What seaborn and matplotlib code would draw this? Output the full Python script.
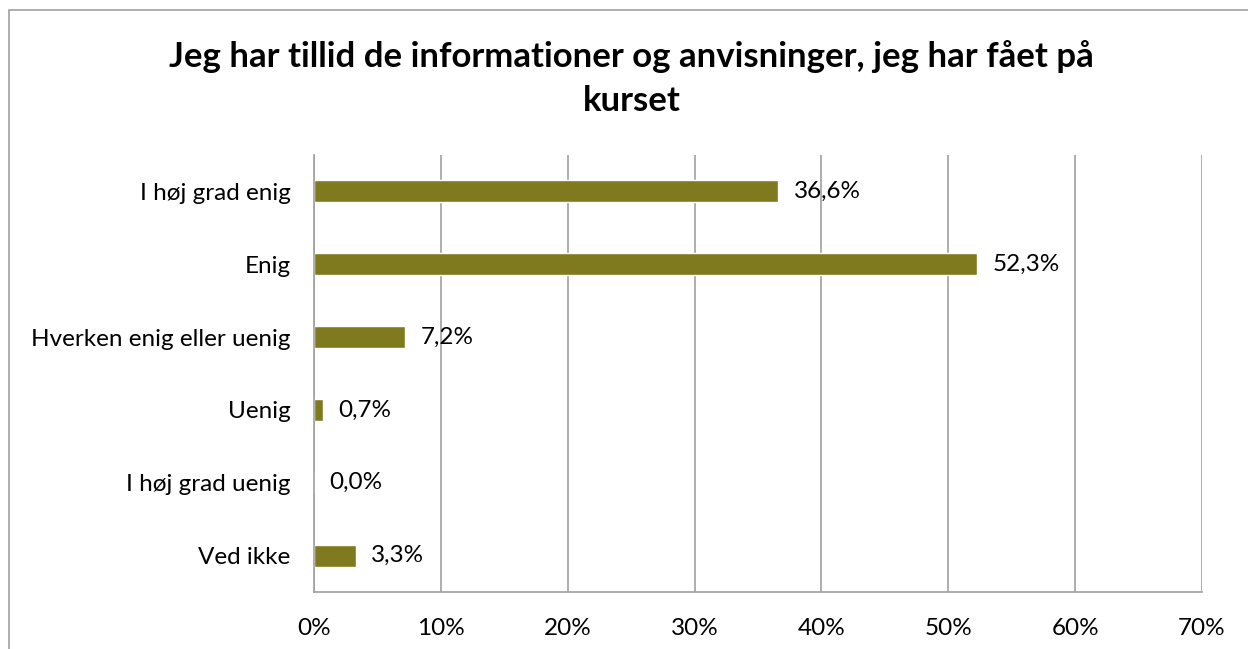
import matplotlib
matplotlib.use('Agg')
import matplotlib.pyplot as plt
import seaborn as sns
import pandas as pd
from matplotlib.patches import Rectangle

# --- Data ---
categories = ['I høj grad enig', 'Enig', 'Hverken enig eller uenig',
              'Uenig', 'I høj grad uenig', 'Ved ikke']
percent = [36.6, 52.3, 7.2, 0.7, 0.0, 3.3]
ticks = [0, 10, 20, 30, 40, 50, 60, 70]
title_lines = ['Jeg har tillid de informationer og anvisninger, jeg har fået på',
               'kurset']

df = pd.DataFrame({'Svar': categories, 'Andel': percent})

sns.set_style('white')
plt.rcParams['font.family'] = ['Lato', 'DejaVu Sans']
plt.rcParams['text.color'] = 'black'
plt.rcParams['xtick.color'] = 'black'
plt.rcParams['ytick.color'] = 'black'

fig = plt.figure(figsize=(12.48, 6.49), dpi=100)
ax = fig.add_axes([0.2516, 0.0878, 0.7115, 0.6734])

sns.barplot(data=df, x='Andel', y='Svar', orient='h', color='#7F7A1E',
            saturation=1, width=0.3, ax=ax)

ax.set_xlim(0, 70)
ax.set_xticks(ticks)
ax.set_xticklabels([f'{t}%' for t in ticks], fontsize=17.5)
ax.tick_params(axis='y', labelsize=17.5, length=0, pad=17)
ax.tick_params(axis='x', length=0, pad=19)
ax.set_xlabel('')
ax.set_ylabel('')
ax.xaxis.grid(True, color='#A0A0A0', linewidth=1.2)
ax.set_axisbelow(True)
for s in ['top', 'right']:
    ax.spines[s].set_visible(False)
for s in ['left', 'bottom']:
    ax.spines[s].set_color('#A0A0A0')
    ax.spines[s].set_linewidth(1.2)

for i, v in enumerate(percent):
    ax.text(v + 1.2, i, f'{v:.1f}%'.replace('.', ','), va='center',
            ha='left', fontsize=17.5)

fig.text(0.506, 0.913, title_lines[0], ha='center', va='center',
         fontsize=25, fontweight='bold')
fig.text(0.506, 0.844, title_lines[1], ha='center', va='center',
         fontsize=25, fontweight='bold')

# outer chart border
fig.patches.append(Rectangle((9 / 1248, -0.1), 1.2, (649 - 10) / 649 + 0.1,
                             transform=fig.transFigure, fill=False,
                             edgecolor='#A0A0A0', linewidth=1.2))

fig.savefig('out.png', dpi=100)
